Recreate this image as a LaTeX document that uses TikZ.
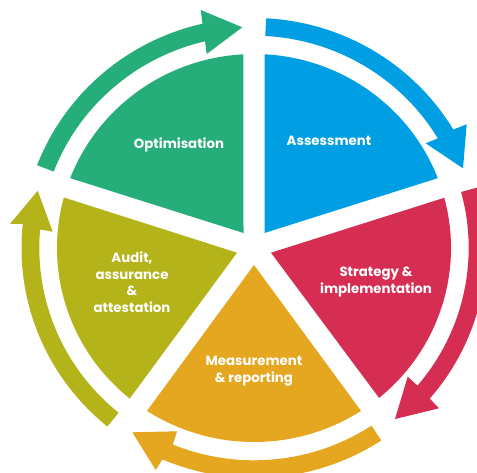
\documentclass[tikz,border=0pt]{standalone}
\usepackage{fontspec}
\setmainfont{Poppins}
\definecolor{cblue}{HTML}{009FE3}
\definecolor{cred}{HTML}{D62E52}
\definecolor{corange}{HTML}{E5A620}
\definecolor{colive}{HTML}{B4B31A}
\definecolor{cgreen}{HTML}{25AE7A}
\tikzset{
  seg/.style={line width=0pt},
  lab/.style={text=white,font=\fontsize{10}{12.4}\selectfont\bfseries,align=center,inner sep=0pt},
  wedge/.style args={#1:#2:#3}{insert path={([shift={(#1:197 and 194)}]C) arc[start angle=#1,end angle=#2,x radius=197,y radius=194] -- #3 -- cycle}},
  ringarrow/.style args={#1:#2:#3:#4}{insert path={([shift={(#1:232.5 and 230)}]C) arc[start angle=#1,end angle=#2,x radius=232.5,y radius=230] -- #4 -- ([shift={(#3:214.7 and 212.3)}]C) arc[start angle=#3,end angle=#1,x radius=214.7,y radius=212.3] -- cycle}}
}
\begin{document}
\begin{tikzpicture}[x=0.75pt,y=0.75pt]
\clip (0,0) rectangle (477,472);
\fill[white] (0,0) rectangle (477,472);
\coordinate (C) at (254,224);
% wedges
\fill[cblue,wedge={86.9:21.1:(264.5,239)}];
\fill[cred,wedge={15:-50.6:(271,219.3)}];
\fill[corange,wedge={-57.1:-122.9:(254,207)}];
\fill[colive,wedge={230.9:164.9:(237,219.3)}];
\fill[cgreen,wedge={158.9:93.1:(243.5,239)}];
% ring arrows
\fill[cblue,ringarrow={87:31:31.1:(466.7,347.7) -- (463,303.7) -- (425.7,328.7)}];
\fill[cred,ringarrow={15.3:-40.9:-40.4:(439,63.7) -- (395,53) -- (407.7,95.3)}];
\fill[corange,ringarrow={-56.8:-113.2:-112.2:(155.7,2) -- (132.3,39.7) -- (177,40.7)}];
\fill[colive,ringarrow={230.9:174:175:(10,248) -- (37.7,281.3) -- (52.7,240.3)}];
\fill[cgreen,ringarrow={158.9:102.8:103.2:(200.7,462) -- (242.3,444.7) -- (206.7,418)}];
% labels
\node[lab] (assess) at (329,331) {Assessment};
\node[lab] (optim) at (179,327) {Optimisation};
\node[lab] (strat) at (376,190) {Strategy \&\\implementation};
\node[lab] (meas) at (254,101) {Measurement\\\& reporting};
\node[lab] (audit) at (132,190) {Audit,\\assurance\\\&\\attestation};
\end{tikzpicture}
\end{document}
